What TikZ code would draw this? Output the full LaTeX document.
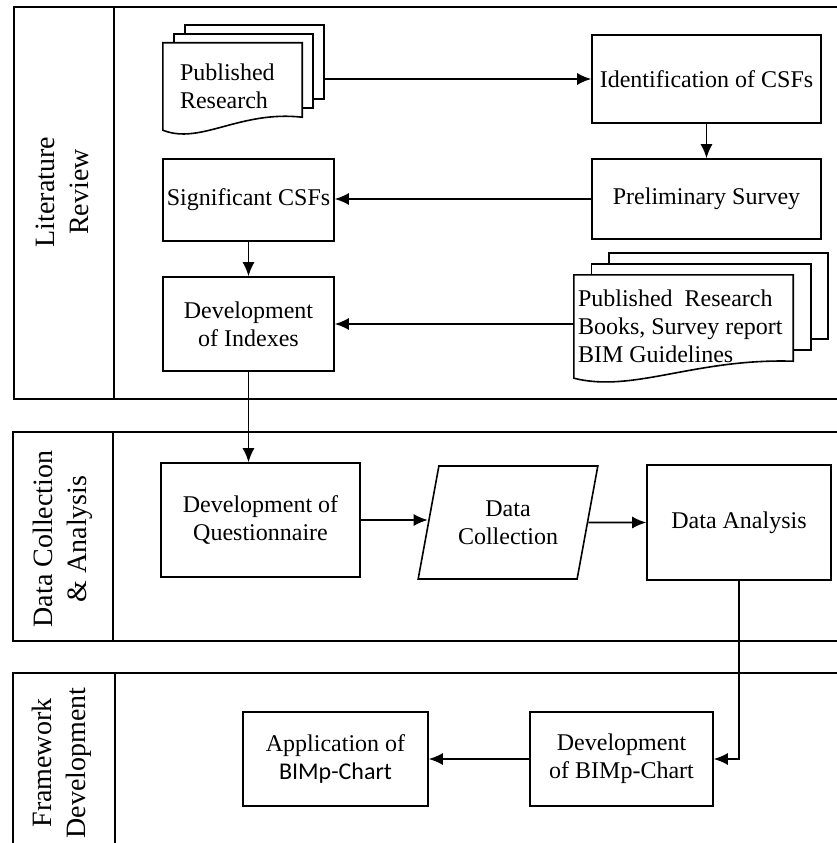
\documentclass[tikz,border=0pt]{standalone}
\usepackage{fontspec}
\setmainfont{Liberation Serif}
\newfontfamily\calibri{Carlito}
\usepackage{tikz}
\usetikzlibrary{arrows.meta,calc,shapes.geometric}

\tikzset{
  box/.style={draw, line width=1.6pt, font=\fontsize{24}{28}\selectfont, align=center, inner sep=2pt},
  docnode/.style={font=\fontsize{24}{28}\selectfont, align=flush left, inner ysep=0pt},
  lanelbl/.style={rotate=90, font=\fontsize{28}{34}\selectfont, align=center},
  lane/.style={line width=1.6pt},
  arr/.style={-{Latex[length=14pt,width=12pt]}, line width=1.6pt},
}

% outline of a document node with two sheets behind it: name, dx, dy, rise
\newcommand{\docsheets}[4]{
  \draw[lane] (#1.north west) -- (#1.north east) -- ([yshift=#4]#1.south east)
    .. controls ([yshift=20pt]$(#1.south west)!0.55!(#1.south east)$)
    and ([yshift=-15pt]$(#1.south west)!0.27!(#1.south east)$) .. (#1.south west) -- cycle;
  \foreach \k in {1,2}
    \draw[lane] ([xshift=\k*#2, yshift=(\k-1)*#3]#1.north west)
      -- ([xshift=\k*#2, yshift=\k*#3]#1.north west)
      -- ([xshift=\k*#2, yshift=\k*#3]#1.north east)
      -- ([xshift=\k*#2, yshift=#4+\k*#3]#1.south east)
      -- ([xshift=(\k-1)*#2, yshift=#4+\k*#3]#1.south east);
}

\begin{document}
\begin{tikzpicture}[x=1pt, y=-1pt]
  \clip (0,0) rectangle (837,843);
  % lanes (open to the right)
  \draw[lane] (14,7) rectangle (850,399) (114,7) -- (114,399);
  \draw[lane] (13,432) rectangle (850,641) (113,432) -- (113,641);
  \draw[lane] (13,673) rectangle (850,860) (115,673) -- (115,860);
  \node[lanelbl] (lit) at (62,192) {Literature\\Review};
  \node[lanelbl] (dca) at (63,539) {Data Collection\\\& Analysis};
  \node[lanelbl] (fwd) at (62,763) {Framework\\Development};

  % literature review
  \node[docnode, inner xsep=17pt, text width=105pt, minimum height=87pt] (pubres) at (232.5,86.5) {Published\\Research};
  \node[docnode, inner xsep=4pt, text width=211pt, minimum height=103pt] (docs2) at (683.5,326.5) {Published~ Research\\Books, Survey report\\BIM Guidelines};
  \docsheets{pubres}{11pt}{9pt}{13pt}
  \docsheets{docs2}{17.5pt}{11pt}{17pt}
  \node[box, minimum width=229pt, minimum height=88pt] (ident) at (706.5,79) {Identification of CSFs};
  \node[box, minimum width=229pt, minimum height=80pt] (prelim) at (706.5,199) {Preliminary Survey};
  \node[box, minimum width=171pt, minimum height=82pt] (signif) at (248.5,200) {Significant CSFs};
  \node[box, minimum width=171pt, minimum height=94pt] (indexes) at (248.5,324) {Development\\of Indexes};

  % data collection and analysis
  \node[box, minimum width=199pt, minimum height=114pt] (quest) at (260.5,520) {Development of\\Questionnaire};
  \node[box, trapezium, trapezium left angle=72, trapezium right angle=108, trapezium stretches=true,
    minimum width=180pt, minimum height=113pt] (datacol) at (508,522.5) {Data\\Collection};
  \node[box, minimum width=184pt, minimum height=115pt] (analysis) at (739,522.5) {Data Analysis};

  % framework development
  \node[box, minimum width=183pt, minimum height=94pt] (bimpdev) at (621.5,759) {Development\\of BIMp-Chart};
  \node[box, minimum width=185pt, minimum height=94pt] (apply) at (335.5,759) {Application of\\{\calibri BIMp-Chart}};

  % connectors
  \coordinate (pubout) at ([xshift=22pt]pubres.east);
  \draw[arr] (pubout |- ident.west) -- (ident.west);
  \draw[arr] (ident.south) -- (prelim.north);
  \draw[arr] (prelim.west) -- (prelim.west -| signif.east);
  \draw[arr] (signif.south) -- (indexes.north);
  \draw[arr] (docs2.west |- indexes.east) -- (indexes.east);
  \draw[arr] (indexes.south) -- (indexes.south |- quest.north);
  \draw[arr] (quest.east) -- (quest.east -| datacol.west);
  \draw[arr] (datacol.east) -- (analysis.west);
  \draw[arr] (analysis.south) |- (bimpdev.east);
  \draw[arr] (bimpdev.west) -- (apply.east);
\end{tikzpicture}
\end{document}
